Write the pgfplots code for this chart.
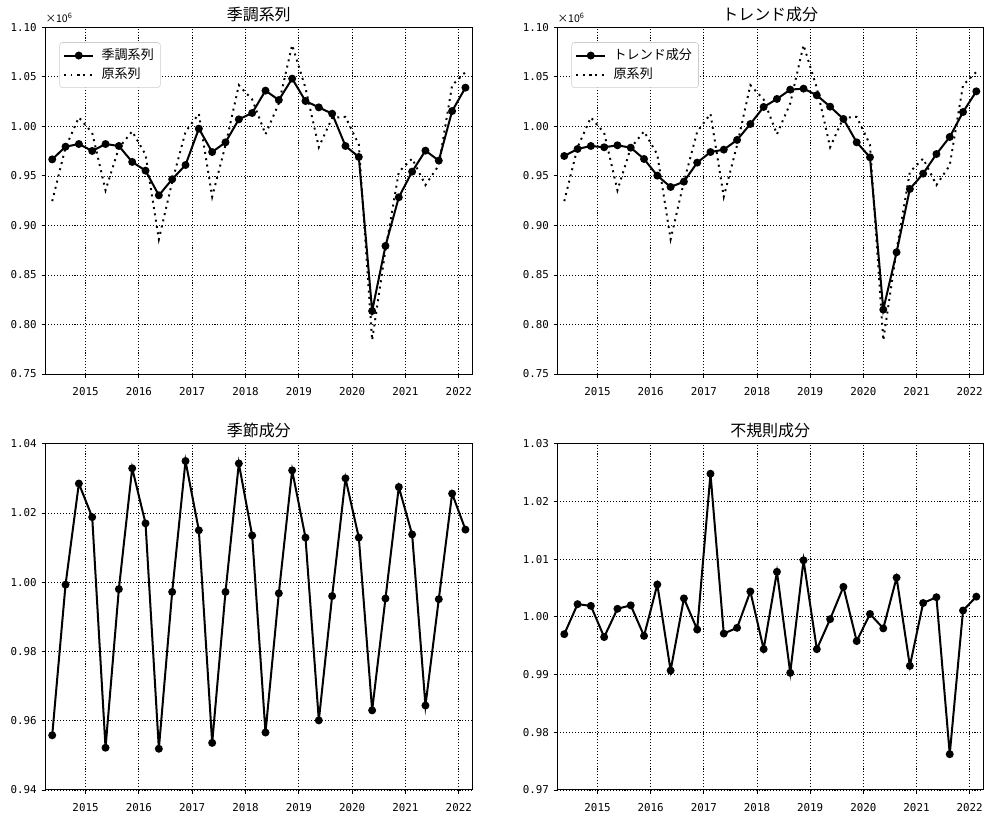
\documentclass[border=0pt]{standalone}
\usepackage{fontspec}
\setmainfont{Noto Sans CJK JP}
\newfontfamily\monofont{DejaVu Sans Mono}
\usepackage{pgfplots}
\usepackage{pgfplotstable}
\pgfplotsset{compat=1.18}

\pgfplotstableread{
x sa trend seas irr orig
2014.375 0.9667 0.9701 0.9558 0.9970 0.9245
2014.625 0.9795 0.9772 0.9993 1.0022 0.9788
2014.875 0.9822 0.9802 1.0285 1.0019 1.0090
2015.125 0.9752 0.9789 1.0188 0.9965 0.9935
2015.375 0.9822 0.9809 0.9522 1.0014 0.9355
2015.625 0.9802 0.9785 0.9980 1.0020 0.9782
2015.875 0.9641 0.9671 1.0329 0.9967 0.9950
2016.125 0.9553 0.9503 1.0170 1.0056 0.9715
2016.375 0.9304 0.9388 0.9519 0.9907 0.8860
2016.625 0.9466 0.9442 0.9972 1.0032 0.9440
2016.875 0.9610 0.9634 1.0350 0.9978 0.9946
2017.125 0.9977 0.9741 1.0150 1.0248 1.0127
2017.375 0.9741 0.9765 0.9536 0.9971 0.9289
2017.625 0.9839 0.9863 0.9972 0.9981 0.9811
2017.875 1.0071 1.0024 1.0343 1.0044 1.0416
2018.125 1.0135 1.0196 1.0135 0.9944 1.0272
2018.375 1.0361 1.0277 0.9566 1.0078 0.9920
2018.625 1.0266 1.0371 0.9968 0.9903 1.0233
2018.875 1.0482 1.0381 1.0323 1.0098 1.0821
2019.125 1.0256 1.0314 1.0129 0.9944 1.0388
2019.375 1.0192 1.0199 0.9601 0.9996 0.9790
2019.625 1.0128 1.0075 0.9960 1.0052 1.0087
2019.875 0.9802 0.9839 1.0300 0.9958 1.0096
2020.125 0.9691 0.9688 1.0129 1.0005 0.9816
2020.375 0.8136 0.8150 0.9630 0.9980 0.7840
2020.625 0.8793 0.8729 0.9953 1.0068 0.8752
2020.875 0.9284 0.9368 1.0275 0.9915 0.9539
2021.125 0.9543 0.9523 1.0138 1.0024 0.9675
2021.375 0.9755 0.9721 0.9644 1.0034 0.9408
2021.625 0.9654 0.9893 0.9951 0.9762 0.9607
2021.875 1.0155 1.0145 1.0256 1.0011 1.0415
2022.125 1.0391 1.0354 1.0152 1.0035 1.0549
}\data

\pgfplotsset{
  every axis/.append style={
    scale only axis,
    xmin=2014.245, xmax=2022.252,
    xtick={2015,2016,2017,2018,2019,2020,2021,2022},
    xticklabels={2015,2016,2017,2018,2019,2020,2021,2022},
    tick align=outside,
    tick pos=left,
    major tick length=2.6pt,
    every tick/.style={black, line width=0.6pt},
    axis line style={black, line width=0.7pt},
    grid=major,
    major grid style={black, line width=0.55pt, dash pattern=on 0.8pt off 1.3pt},
    ticklabel style={font=\monofont\fontsize{7.8}{8}\selectfont},
    xticklabel style={yshift=-3.5pt},
    title style={font=\fontsize{11.5}{12}\selectfont, at={(0.5,1)}, anchor=south, yshift=-5.5pt},
    legend style={font=\fontsize{9.4}{10}\selectfont, at={(0.033,0.957)}, anchor=north west,
      draw=black!20, rounded corners=2pt, fill=white, inner sep=2.5pt,
      row sep=0pt, column sep=3pt, nodes={inner sep=2.2pt}},
    legend cell align=left,
    legend image code/.code={\draw[mark repeat=2,mark phase=2,#1] plot coordinates {(0cm,0cm) (0.37cm,0cm) (0.74cm,0cm)};},
  },
  mainline/.style={black, line width=1.45pt, mark=*, mark size=2.1pt, mark options={solid}},
  origline/.style={black, line width=1.4pt, dash pattern=on 1.4pt off 3.2pt, no marks},
}

\begin{document}
\begin{tikzpicture}
% top left
\begin{axis}[at={(32.6pt,320.4pt)}, anchor=south west, width=307.4pt, height=249.6pt,
  title={季調系列},
  ymin=0.75, ymax=1.10,
  ytick={0.75,0.80,0.85,0.90,0.95,1.00,1.05,1.10},
  yticklabels={0.75,0.80,0.85,0.90,0.95,1.00,1.05,1.10},
  clip=false]
\addplot[mainline] table[x=x,y=sa]{\data};
\addlegendentry{季調系列}
\addplot[origline] table[x=x,y=orig]{\data};
\addlegendentry{原系列}
\node[anchor=south west, font=\fontsize{7.6}{8}\selectfont, inner sep=0pt] at (rel axis cs:0,1) [yshift=3.5pt] {×10\textsuperscript{6}};
\end{axis}
% top right
\begin{axis}[at={(401.3pt,320.4pt)}, anchor=south west, width=306.5pt, height=249.6pt,
  title={トレンド成分},
  ymin=0.75, ymax=1.10,
  ytick={0.75,0.80,0.85,0.90,0.95,1.00,1.05,1.10},
  yticklabels={0.75,0.80,0.85,0.90,0.95,1.00,1.05,1.10},
  clip=false]
\addplot[mainline] table[x=x,y=trend]{\data};
\addlegendentry{トレンド成分}
\addplot[origline] table[x=x,y=orig]{\data};
\addlegendentry{原系列}
\node[anchor=south west, font=\fontsize{7.6}{8}\selectfont, inner sep=0pt] at (rel axis cs:0,1) [yshift=3.5pt] {×10\textsuperscript{6}};
\end{axis}
% bottom left
\begin{axis}[at={(32.6pt,20.9pt)}, anchor=south west, width=307.4pt, height=249.3pt,
  title={季節成分},
  ymin=0.94, ymax=1.04,
  ytick={0.94,0.96,0.98,1.00,1.02,1.04},
  yticklabels={0.94,0.96,0.98,1.00,1.02,1.04}]
\addplot[mainline] table[x=x,y=seas]{\data};
\end{axis}
% bottom right
\begin{axis}[at={(401.3pt,20.9pt)}, anchor=south west, width=306.5pt, height=249.3pt,
  title={不規則成分},
  ymin=0.97, ymax=1.03,
  ytick={0.97,0.98,0.99,1.00,1.01,1.02,1.03},
  yticklabels={0.97,0.98,0.99,1.00,1.01,1.02,1.03}]
\addplot[mainline] table[x=x,y=irr]{\data};
\end{axis}
\pgfresetboundingbox
\path[use as bounding box] (0,0) rectangle (711.36pt,589.68pt);
\end{tikzpicture}
\end{document}
